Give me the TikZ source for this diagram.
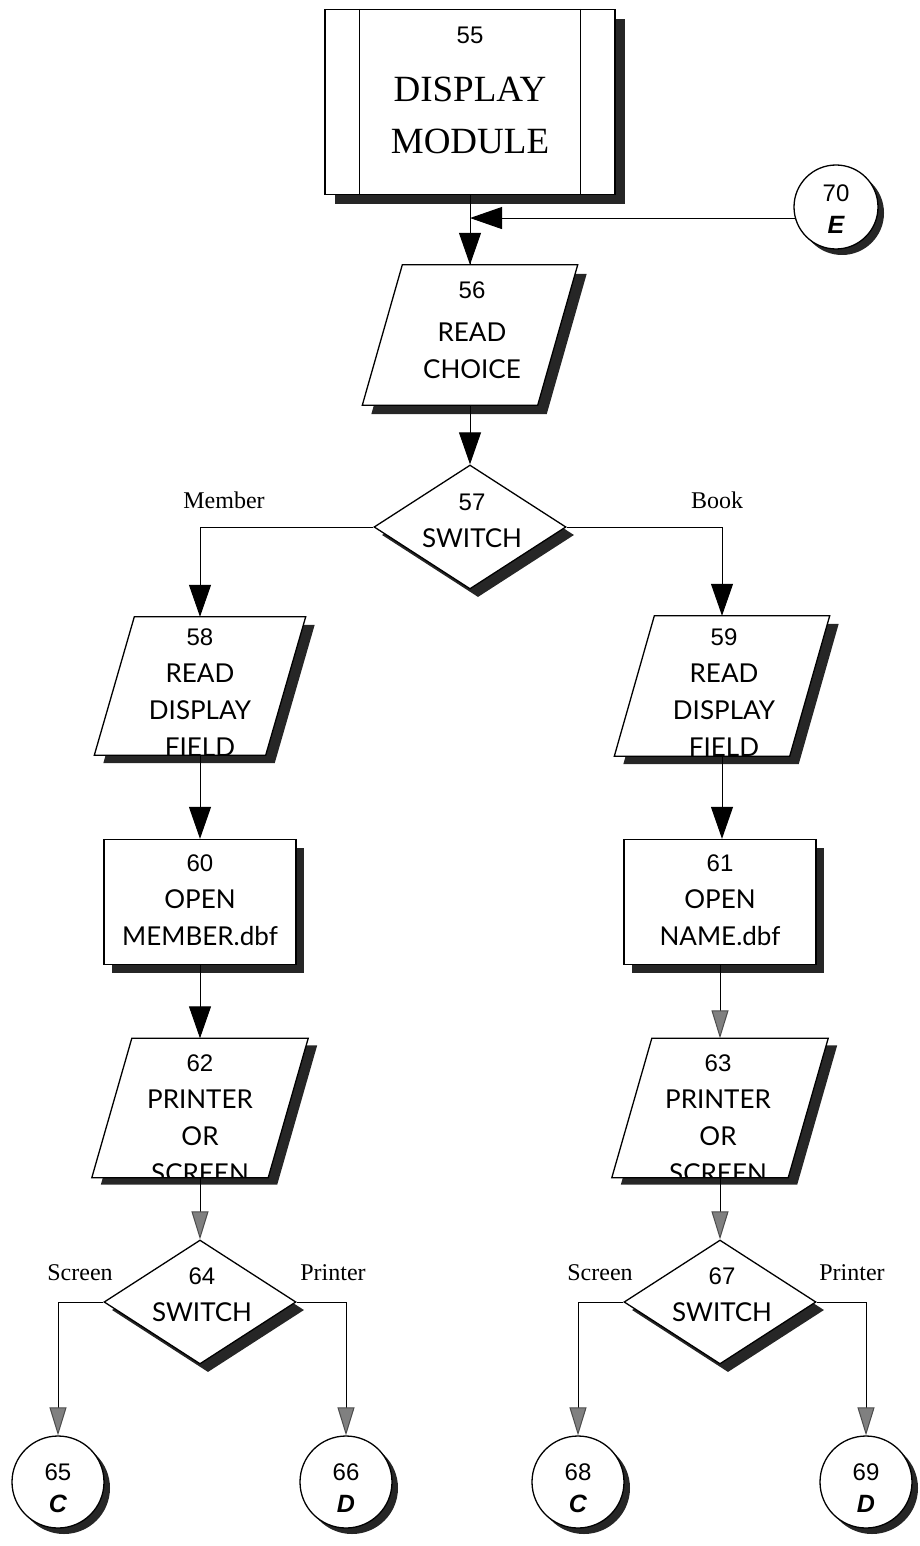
\documentclass[tikz,border=0pt]{standalone}
\usepackage{fontspec}
\setmainfont{Liberation Serif}
\newfontfamily\numfont{Liberation Sans}
\newfontfamily\bodyfont{Lato}
\newfontfamily\letfont{Liberation Sans}
\usetikzlibrary{shapes.geometric,arrows.meta}
\newcommand{\numtxt}[1]{{\numfont\fontsize{24}{37}\selectfont #1}}
\newcommand{\lettxt}[1]{{\letfont\bfseries\itshape\fontsize{25}{32}\selectfont #1}}
% parallelogram drawn on an invisible named frame node
\newcommand{\paraoutline}[3]{% name, xshift, yshift
  ([xshift=40pt+#2,yshift=#3]#1.north west) -- ([xshift=#2,yshift=#3]#1.north east) --
  ([xshift=-40pt+#2,yshift=#3]#1.south east) -- ([xshift=#2,yshift=#3]#1.south west) -- cycle}
\newcommand{\drawpara}[3]{% name, shadow dx, shadow dy
  \fill[black!85] \paraoutline{#1}{#2}{#3};
  \filldraw[fill=white, line width=1.3pt] \paraoutline{#1}{0pt}{0pt};}
\begin{document}
\begin{tikzpicture}[x=1pt,y=-1pt,
  box/.style={draw, line width=1.3pt, fill=white, inner sep=0pt},
  shade/.style={fill=black!85, draw=none, inner sep=0pt},
  frame/.style={rectangle, draw=none, minimum width=215pt, minimum height=140pt, inner sep=0pt},
  dia/.style={diamond, minimum width=192pt, minimum height=124pt, inner sep=0pt},
  rbox/.style={rectangle, minimum width=192pt, minimum height=125pt},
  conn/.style={circle, minimum size=92pt, inner sep=0pt},
  txt/.style={align=center, inner sep=0pt, font=\bodyfont\fontsize{26}{37}\selectfont},
  ctxt/.style={align=center, inner sep=0pt, font=\numfont\fontsize{24}{32}\selectfont},
  lbl/.style={inner sep=0pt, font=\fontsize{24}{28}\selectfont},
  line/.style={line width=1pt},
  bigtip/.style={line, -{Triangle[length=32pt,width=22pt]}},
  smalltip/.style={line, -{Triangle[length=28pt,width=17pt,color=black!70,fill=black!50]}}
]
\useasboundingbox (0,0) rectangle (920,1546);

% ---------- 55 display module ----------
\node[rbox, shade, minimum width=290pt, minimum height=185pt, xshift=10pt, yshift=-10pt] (s55) at (470,102) {};
\node[rbox, box, minimum width=290pt, minimum height=185pt] (n55) at (470,102) {};
\draw[line width=1pt] ([xshift=35pt]n55.north west) -- ([xshift=35pt]n55.south west);
\draw[line width=1pt] ([xshift=-35pt]n55.north east) -- ([xshift=-35pt]n55.south east);
\node[align=center, inner sep=0pt, font=\fontsize{37}{52}\selectfont] (t55) at (470,90) {\numtxt{55}\\[6pt]DISPLAY\\MODULE};

% ---------- 70 connector ----------
\node[conn, shade, minimum size=84pt, xshift=6pt, yshift=-6pt] (s70) at (836,207) {};
\node[conn, box, minimum size=84pt] (c70) at (836,207) {};
\node[ctxt] (t70) at (836,209) {70\\\lettxt{E}};

% ---------- 56 read choice ----------
\node[frame] (n56) at (470,335) {};
\drawpara{n56}{9pt}{-9pt}
\node[txt] (t56) at (472,330) {\numtxt{56}\\[6pt]READ\\CHOICE};

% ---------- 57 switch ----------
\node[dia, shade, xshift=8pt, yshift=-8pt] (s57) at (470,527) {};
\node[dia, box] (d57) at (470,527) {};
\node[txt] (t57) at (472,521) {\numtxt{57}\\SWITCH};
\node[lbl] (lmember) at (224,500) {Member};
\node[lbl] (lbook) at (717,500) {Book};

% ---------- 58 / 59 ----------
\node[frame, minimum width=211pt, minimum height=138pt] (n58) at (200,686) {};
\drawpara{n58}{9pt}{-8pt}
\begin{scope}
\clip \paraoutline{n58}{0pt}{0pt};
\node[txt] (t58) at (200,693) {\numtxt{58}\\READ\\DISPLAY\\FIELD};
\end{scope}
\node[frame, minimum width=215pt, minimum height=140pt] (n59) at (722,686) {};
\drawpara{n59}{9pt}{-8pt}
\begin{scope}
\clip \paraoutline{n59}{0pt}{0pt};
\node[txt] (t59) at (724,693) {\numtxt{59}\\READ\\DISPLAY\\FIELD};
\end{scope}

% ---------- 60 / 61 ----------
\node[rbox, shade, xshift=8pt, yshift=-8pt] (s60) at (200,902) {};
\node[rbox, box] (n60) at (200,902) {};
\node[txt] (t60) at (200,900) {\numtxt{60}\\OPEN\\MEMBER.dbf};
\node[rbox, shade, xshift=8pt, yshift=-8pt] (s61) at (720,902) {};
\node[rbox, box] (n61) at (720,902) {};
\node[txt] (t61) at (720,900) {\numtxt{61}\\OPEN\\NAME.dbf};

% ---------- 62 / 63 ----------
\node[frame, minimum width=216pt, minimum height=139pt] (n62) at (200,1108) {};
\drawpara{n62}{9pt}{-7pt}
\begin{scope}
\clip \paraoutline{n62}{0pt}{0pt};
\node[txt] (t62) at (200,1119) {\numtxt{62}\\PRINTER\\OR\\SCREEN};
\end{scope}
\node[frame, minimum width=216pt, minimum height=139pt] (n63) at (720,1108) {};
\drawpara{n63}{9pt}{-7pt}
\begin{scope}
\clip \paraoutline{n63}{0pt}{0pt};
\node[txt] (t63) at (718,1119) {\numtxt{63}\\PRINTER\\OR\\SCREEN};
\end{scope}

% ---------- 64 / 67 ----------
\node[dia, shade, xshift=8pt, yshift=-8pt] (s64) at (200,1302) {};
\node[dia, box] (d64) at (200,1302) {};
\node[txt] (t64) at (202,1295) {\numtxt{64}\\SWITCH};
\node[dia, shade, xshift=8pt, yshift=-8pt] (s67) at (720,1302) {};
\node[dia, box] (d67) at (720,1302) {};
\node[txt] (t67) at (722,1295) {\numtxt{67}\\SWITCH};
\node[lbl] (lscr1) at (80,1273) {Screen};
\node[lbl] (lprn1) at (333,1273) {Printer};
\node[lbl] (lscr2) at (600,1273) {Screen};
\node[lbl] (lprn2) at (852,1273) {Printer};

% ---------- end connectors ----------
\foreach \nm/\xx/\ll in {65/58/C,66/346/D,68/578/C,69/866/D}{
  \node[conn, shade, xshift=6pt, yshift=-6pt] (s\nm) at (\xx,1482) {};
  \node[conn, box] (c\nm) at (\xx,1482) {};
  \node[ctxt] (t\nm) at (\xx,1488) {\nm\\\lettxt{\ll}};
}

% ---------- connectors ----------
\coordinate (j) at (c70.195 -| n55.south);
\draw[line] (n55.south) -- (n55.south |- n56.north);
\draw[bigtip] (j) -- (n55.south |- n56.north);
\draw[bigtip] (c70.195) -- (j);
\draw[bigtip] (n56.south) -- (d57.north);
\draw[bigtip] (d57.west) -| (n58.north);
\draw[bigtip] (d57.east) -| (n59.north);
\draw[bigtip] (n58.south) -- (n60.north);
\draw[bigtip] (n59.south) -- (n59.south |- n61.north);
\draw[bigtip] (n60.south) -- (n62.north);
\draw[smalltip] (n61.south) -- (n63.north);
\draw[smalltip] (n62.south) -- (d64.north);
\draw[smalltip] (n63.south) -- (d67.north);
\draw[smalltip] (d64.west) -| (c65.north);
\draw[smalltip] (d64.east) -| (c66.north);
\draw[smalltip] (d67.west) -| (c68.north);
\draw[smalltip] (d67.east) -| (c69.north);
\end{tikzpicture}
\end{document}
